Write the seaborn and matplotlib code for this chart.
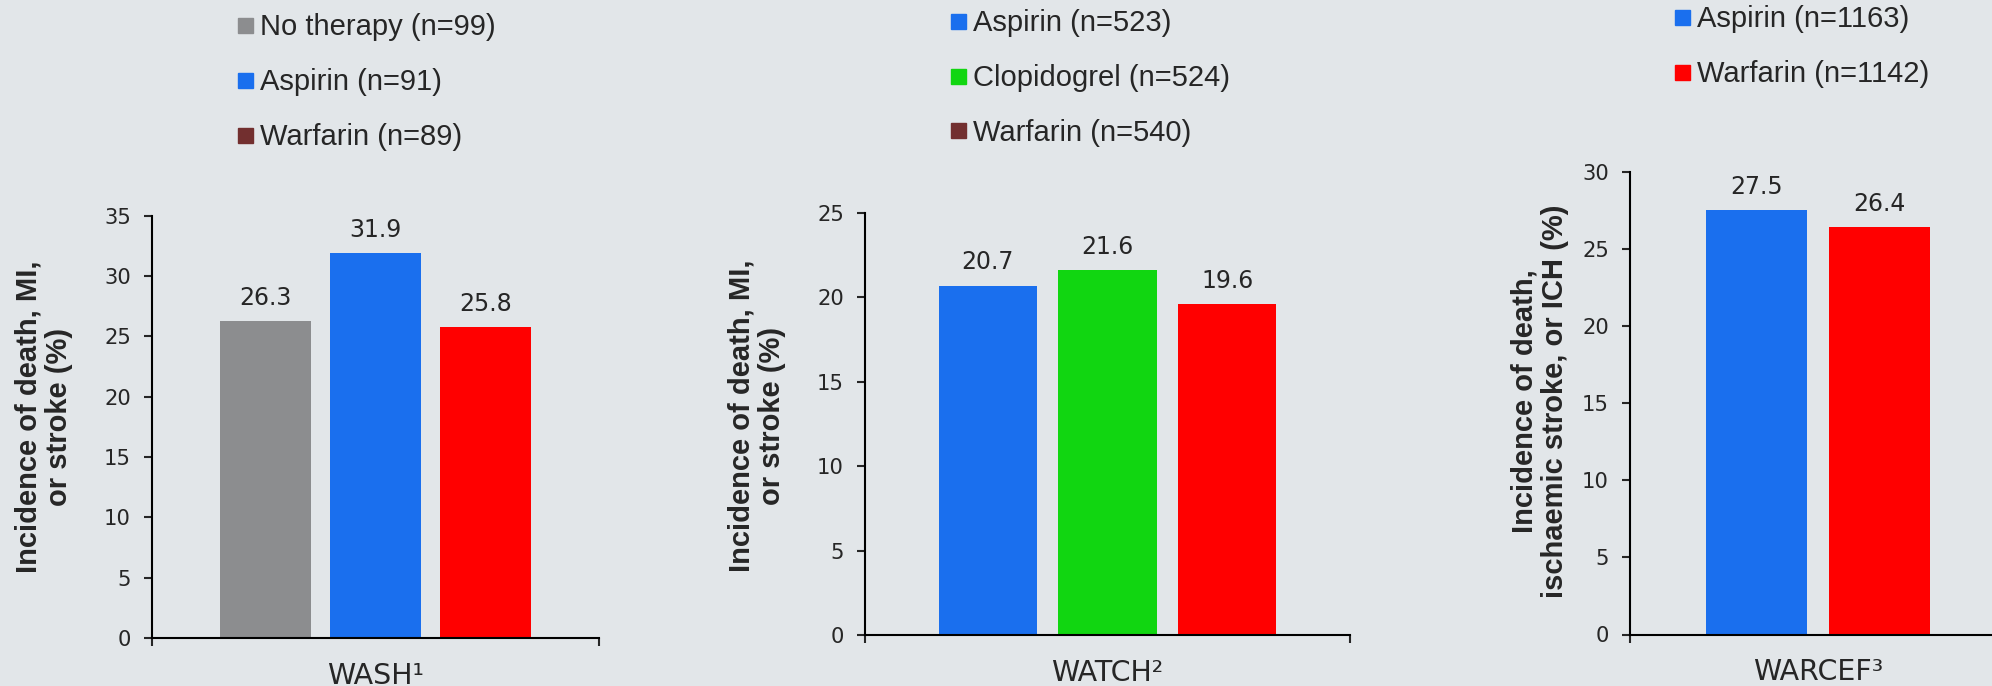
import matplotlib
matplotlib.use("Agg")
import matplotlib.pyplot as plt
import pandas as pd
import seaborn as sns
from matplotlib.lines import Line2D

# --- data -------------------------------------------------------------------
studies = ["WASH¹", "WATCH²", "WARCEF³"]

wash_groups = ["No therapy (n=99)", "Aspirin (n=91)", "Warfarin (n=89)"]
wash_values = [26.3, 31.9, 25.8]

watch_groups = ["Aspirin (n=523)", "Clopidogrel (n=524)", "Warfarin (n=540)"]
watch_values = [20.7, 21.6, 19.6]

warcef_groups = ["Aspirin (n=1163)", "Warfarin (n=1142)"]
warcef_values = [27.5, 26.4]

y_max = [35, 25, 30]
y_labels = [
    "Incidence of death, MI,\nor stroke (%)",
    "Incidence of death, MI,\nor stroke (%)",
    "Incidence of death,\nischaemic stroke, or ICH (%)",
]

GREY, BLUE, GREEN, RED, BROWN = "#8c8d8f", "#1a6fee", "#11d611", "#ff0000", "#722f2f"
bar_colors = [[GREY, BLUE, RED], [BLUE, GREEN, RED], [BLUE, RED]]
legend_colors = [[GREY, BLUE, BROWN], [BLUE, GREEN, BROWN], [BLUE, RED]]

BG = "#e2e6e9"
W, H = 1992, 686

sns.set_theme(style="ticks", rc={
    "axes.facecolor": BG, "figure.facecolor": BG,
    "axes.edgecolor": "black", "axes.linewidth": 1.5,
    "axes.spines.top": False, "axes.spines.right": False,
})
plt.rcParams["font.family"] = ["DejaVu Sans"]

fig = plt.figure(figsize=(W / 100, H / 100), dpi=100)

# axes boxes in pixels: left, right, top, bottom
boxes = [(152, 599, 215.7, 638), (865, 1350, 213, 635), (1630, 2006, 171.5, 634.5)]
bar_w = [0.74, 0.74, 0.654]
ylab_pos = [(43.5, 417), (757, 416), (1540, 401)]
leg_pos = [(238, 13.4), (951, 9), (1675, 5)]

panels = [
    (wash_groups, wash_values),
    (watch_groups, watch_values),
    (warcef_groups, warcef_values),
]

for i, (groups, values) in enumerate(panels):
    l, r, t, b = boxes[i]
    ax = fig.add_axes([l / W, 1 - b / H, (r - l) / W, (b - t) / H])

    df = pd.DataFrame({"study": studies[i], "group": groups, "value": values})
    sns.barplot(
        data=df, x="study", y="value", hue="group", hue_order=groups,
        palette=bar_colors[i], saturation=1, width=bar_w[i], gap=0.175,
        linewidth=0, legend=False, ax=ax,
    )

    for cont in ax.containers:
        ax.bar_label(cont, fmt="%.1f", padding=8, fontsize=17)

    ax.set_xlim(-0.5, 0.5)
    ax.set_ylim(0, y_max[i])
    ax.set_yticks(range(0, y_max[i] + 1, 5))
    ax.set_xlabel("")
    ax.set_ylabel(y_labels[i], fontsize=21, fontweight="bold",
                  family="Liberation Sans", linespacing=1.1)
    ax.yaxis.label.set_verticalalignment("center")
    ax.yaxis.set_label_coords(ylab_pos[i][0] / W, 1 - ylab_pos[i][1] / H,
                              transform=fig.transFigure)

    ax.tick_params(axis="y", length=5.8, width=1.5, pad=9.4, labelsize=15.2)
    ax.tick_params(axis="x", which="major", length=0, pad=17, labelsize=20.5)
    ax.set_xticks([-0.5, 0.5], minor=True)
    ax.tick_params(axis="x", which="minor", length=5.8, width=1.5)

    handles = [Line2D([], [], marker="s", linestyle="", markersize=10.8,
                      color=c) for c in legend_colors[i]]
    lx, ly = leg_pos[i]
    fig.legend(handles, groups, loc="upper left",
               bbox_to_anchor=(lx / W, 1 - ly / H), frameon=False,
               borderpad=0, borderaxespad=0, handlelength=0.5,
               handletextpad=0.25, labelspacing=0.92,
               prop={"family": "Liberation Sans", "size": 21})

fig.savefig("out.png", dpi=100, facecolor=BG)
